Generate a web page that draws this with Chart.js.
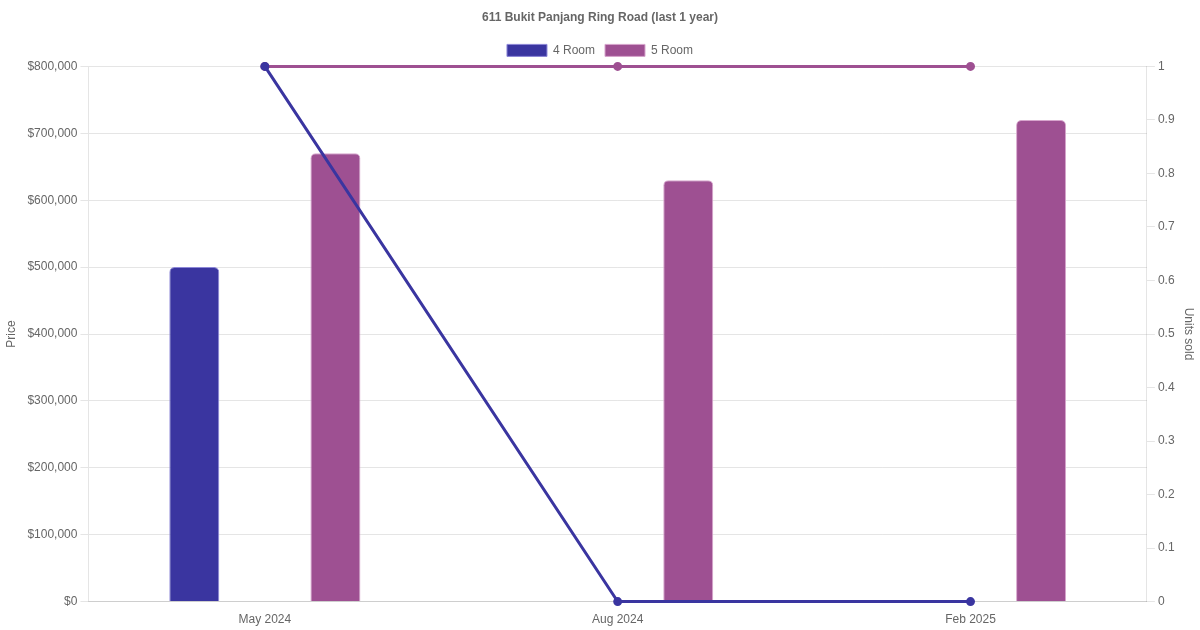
<!DOCTYPE html>
<html>
<head>
<meta charset="utf-8">
<script src="https://cdn.jsdelivr.net/npm/chart.js@4/dist/chart.umd.min.js"></script>
<style>
  html, body { margin: 0; padding: 0; background: #fff; }
  #wrap { width: 1200px; height: 630px; }
</style>
</head>
<body>
<div id="wrap"><canvas id="chart"></canvas></div>
<script>
// months on the x axis
const months = ['May 2024', 'Aug 2024', 'Feb 2025'];

// average price per flat type
const price4Room = [500000, null, null];
const price5Room = [670000, 630000, 720000];

// units sold per flat type
const units4Room = [1, 0, 0];
const units5Room = [1, 1, 1];

const blue = 'rgb(58, 53, 160)';
const purple = 'rgb(158, 80, 146)';

const ctx = document.getElementById('chart').getContext('2d');
const chart = new Chart(ctx, {
    data: {
        labels: months,
        datasets: [
            {
                type: 'line',
                label: '4 Room units',
                data: units4Room,
                yAxisID: 'y1',
                borderColor: blue,
                backgroundColor: blue,
                borderWidth: 3,
                pointRadius: 3,
                clip: false,
                order: 0
            },
            {
                type: 'line',
                label: '5 Room units',
                data: units5Room,
                yAxisID: 'y1',
                borderColor: purple,
                backgroundColor: purple,
                borderWidth: 3,
                pointRadius: 3,
                clip: false,
                order: 0
            },
            {
                type: 'bar',
                label: '4 Room',
                data: price4Room,
                yAxisID: 'y',
                backgroundColor: blue,
                borderColor: 'rgba(140, 135, 215, 1)',
                borderWidth: 1,
                borderRadius: 5,
                borderSkipped: 'bottom',
                maxBarThickness: 50,
                order: 1
            },
            {
                type: 'bar',
                label: '5 Room',
                data: price5Room,
                yAxisID: 'y',
                backgroundColor: purple,
                borderColor: 'rgba(215, 165, 205, 1)',
                borderWidth: 1,
                borderRadius: 5,
                borderSkipped: 'bottom',
                maxBarThickness: 50,
                order: 1
            }
        ]
    },
    options: {
        responsive: true,
        maintainAspectRatio: false,
        animation: false,
        plugins: {
            title: {
                display: true,
                text: '611 Bukit Panjang Ring Road (last 1 year)',
                color: '#666',
                font: { size: 12, weight: 'bold' }
            },
            legend: {
                labels: {
                    color: '#666',
                    filter: (item) => item.text === '4 Room' || item.text === '5 Room'
                }
            }
        },
        scales: {
            x: {
                ticks: { color: '#666' },
                grid: { display: false }
            },
            y: {
                position: 'left',
                beginAtZero: true,
                title: { display: true, text: 'Price', color: '#666', padding: { top: 4, bottom: 6 } },
                ticks: {
                    color: '#666',
                    callback: (v) => '$' + v.toLocaleString('en-US')
                }
            },
            y1: {
                position: 'right',
                beginAtZero: true,
                max: 1,
                title: { display: true, text: 'Units sold', color: '#666' },
                ticks: {
                    color: '#666',
                    callback: (v) => String(+v.toFixed(1))
                },
                grid: { drawOnChartArea: false }
            }
        }
    }
});
</script>
</body>
</html>
